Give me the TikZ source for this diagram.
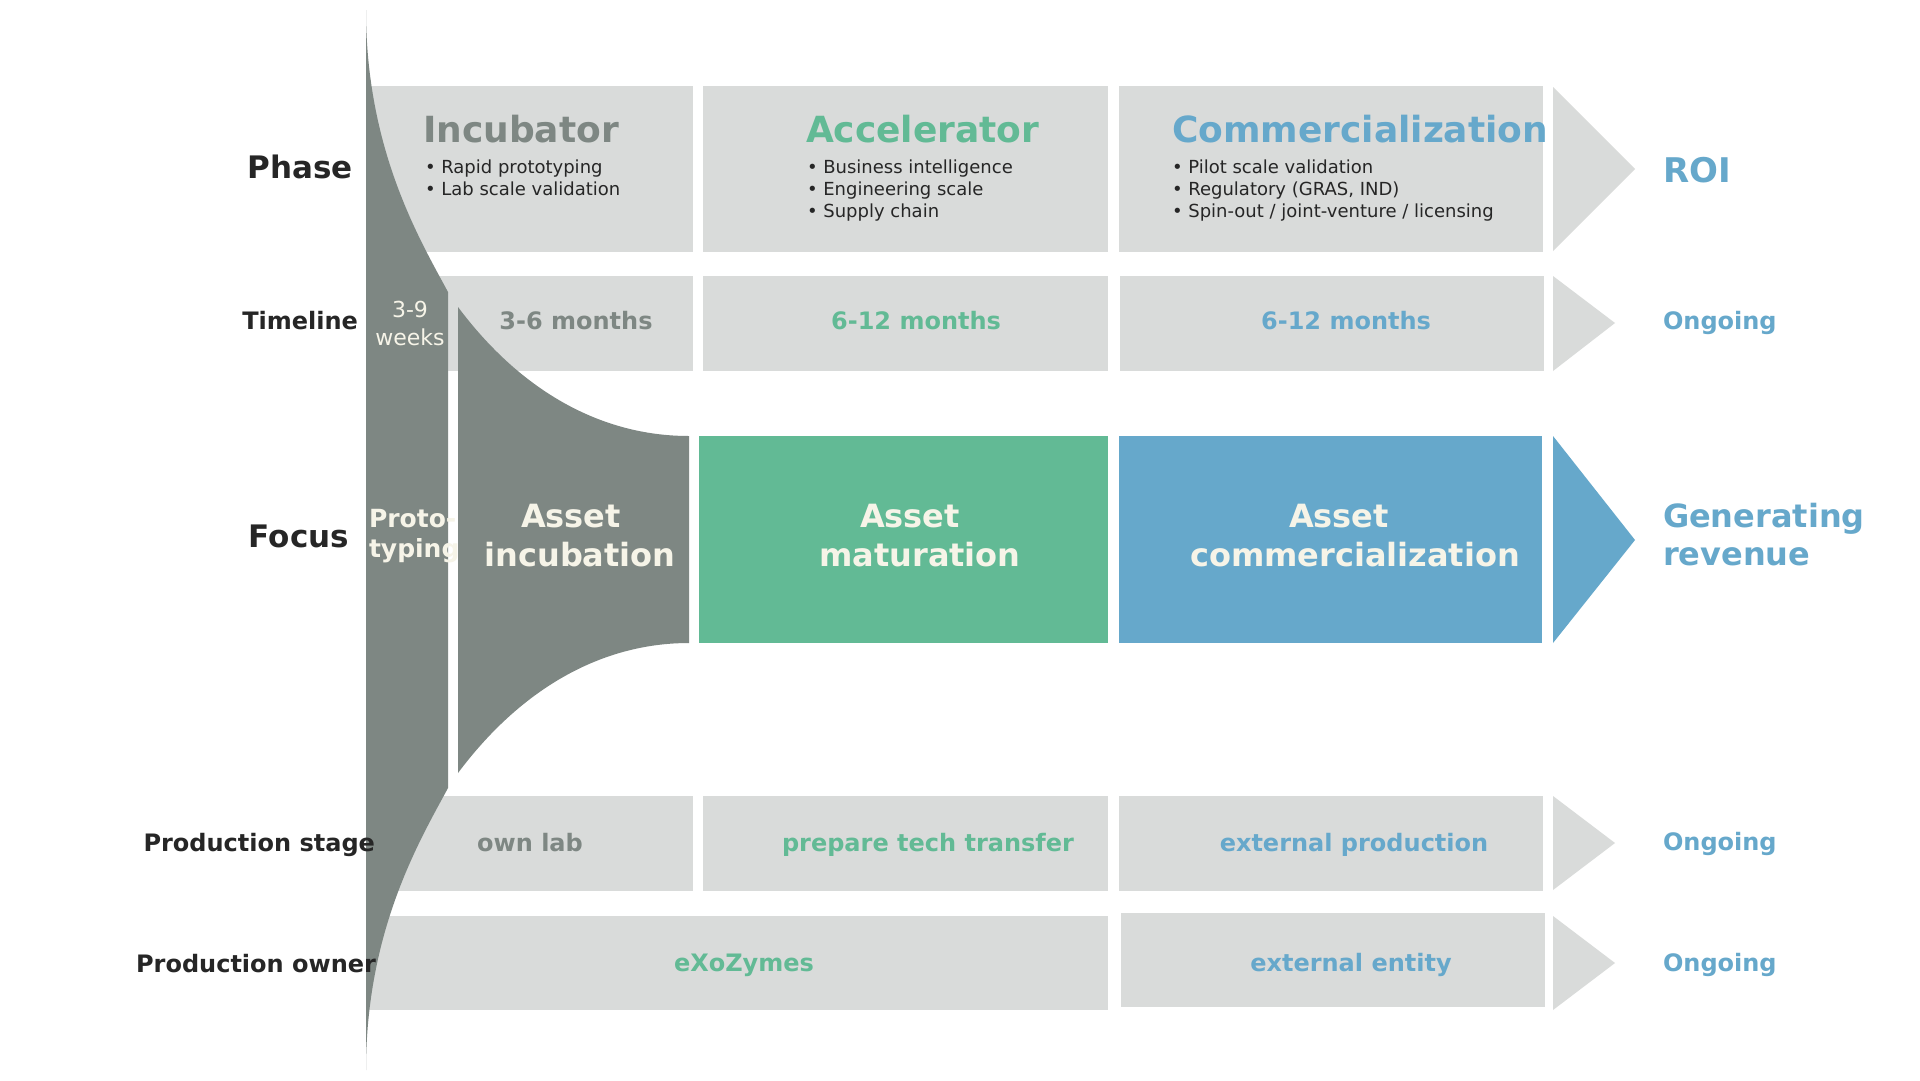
\documentclass[tikz,border=0pt]{standalone}
\usepackage{fontspec}
\setmainfont{DejaVu Sans}
\definecolor{boxgray}{HTML}{D9DBDA}
\definecolor{darkgray2}{HTML}{7E8783}
\definecolor{mygreen}{HTML}{62BA95}
\definecolor{myblue}{HTML}{66A8CB}
\definecolor{ink}{HTML}{262626}
\definecolor{cream}{HTML}{F6F4E8}
\newcommand{\fsz}[1]{\fontsize{#1pt}{#1pt}\selectfont}
\newcommand{\llines}[2]{\vtop{\baselineskip=#1pt\halign{##\hfil\cr#2\crcr}}}
\newcommand{\clines}[2]{\vtop{\baselineskip=#1pt\halign{\hfil##\hfil\cr#2\crcr}}}
\tikzset{
  every node/.style={inner sep=0pt, outer sep=0pt},
  rowlabel/.style={anchor=base east, text=ink, font=\bfseries\fsz{#1}},
  title/.style={anchor=base west, font=\bfseries\fsz{36}},
  bullets/.style={anchor=base west, text=ink, font=\fsz{18}},
  cell/.style={anchor=base, font=\bfseries\fsz{24}},
  focustext/.style={anchor=base, text=cream, font=\bfseries\fsz{32}},
  outtext/.style={anchor=base west, text=myblue, font=\bfseries\fsz{#1}},
}
\begin{document}
\begin{tikzpicture}[x=1pt,y=-1pt]
\useasboundingbox[fill=white] (0,0) rectangle (1920,1080);

% Phase row
\fill[boxgray] (366,86) rectangle (693,252);
\fill[boxgray] (703,86) rectangle (1108,252);
\fill[boxgray] (1119,86) rectangle (1543,252);
\fill[boxgray] (1553,87) -- (1635,169) -- (1553,251) -- cycle;
% Timeline row
\fill[boxgray] (366,276) rectangle (693,371);
\fill[boxgray] (703,276) rectangle (1108,371);
\fill[boxgray] (1120,276) rectangle (1544,371);
\fill[boxgray] (1553,276) -- (1615,323) -- (1553,371) -- cycle;
% Focus row
\fill[mygreen] (699,436) rectangle (1108,643);
\fill[myblue] (1119,436) rectangle (1542,643);
\fill[myblue] (1553,436) -- (1635,540) -- (1553,643) -- cycle;
% Production stage row
\fill[boxgray] (366,796) rectangle (693,891);
\fill[boxgray] (703,796) rectangle (1108,891);
\fill[boxgray] (1119,796) rectangle (1543,891);
\fill[boxgray] (1553,796) -- (1615,843) -- (1553,890) -- cycle;
% Production owner row
\fill[boxgray] (366,916) rectangle (1108,1010);
\fill[boxgray] (1121,913) rectangle (1545,1007);
\fill[boxgray] (1553,916) -- (1615,963) -- (1553,1010) -- cycle;

% Dark funnel shapes
\fill[darkgray2] (366,10) .. controls (366,150) and (420,240) .. (448,292)
  -- (448,788) .. controls (420,840) and (366,930) .. (366,1070) -- cycle;
\fill[darkgray2] (458,307) .. controls (520,390) and (600,436) .. (689,436)
  -- (689,643) .. controls (600,643) and (520,690) .. (458,773) -- cycle;

% Row labels
\node[rowlabel=31] (lphase) at (353,178) {Phase};
\node[rowlabel=24] (ltime) at (358,329) {Timeline};
\node[rowlabel=31] (lfocus) at (349,547) {Focus};
\node[rowlabel=24] (lstage) at (375,851) {Production stage};
\node[rowlabel=24] (lowner) at (376,972) {Production owner};

% Phase texts
\node[title, text=darkgray2] (tinc) at (423,142) {Incubator};
\node[bullets] (binc) at (425,173) {\llines{22}{• Rapid prototyping\cr • Lab scale validation}};
\node[title, text=mygreen] (tacc) at (806,142) {Accelerator};
\node[bullets] (bacc) at (807,173) {\llines{22}{• Business intelligence\cr • Engineering scale\cr • Supply chain}};
\node[title, text=myblue] (tcom) at (1172,142) {Commercialization};
\node[bullets] (bcom) at (1172,173) {\llines{22}{• Pilot scale validation\cr • Regulatory (GRAS, IND)\cr • Spin-out / joint-venture / licensing}};
\node[outtext=34] (roi) at (1663,182) {ROI};

% Timeline texts
\node[anchor=base, text=cream, font=\fsz{22}] (weeks) at (410,317) {\clines{28}{3-9\cr weeks}};
\node[cell, text=darkgray2] (m1) at (576,329) {3-6 months};
\node[cell, text=mygreen] (m2) at (916,329) {6-12 months};
\node[cell, text=myblue] (m3) at (1346,329) {6-12 months};
\node[outtext=24] (on1) at (1663,329) {Ongoing};

% Focus texts
\node[anchor=base west, text=cream, font=\bfseries\fsz{25}] (proto) at (369,527) {\llines{30}{Proto-\cr typing}};
\node[focustext] (finc) at (580,527) {\clines{39}{Asset\kern18pt\cr incubation}};
\node[focustext] (fmat) at (920,527) {\clines{39}{Asset\kern20pt\cr maturation}};
\node[focustext] (fcom) at (1355,527) {\clines{39}{Asset\kern32pt\cr commercialization}};
\node[outtext=32] (rev) at (1663,527) {\llines{38}{Generating\cr revenue}};

% Production stage texts
\node[cell, text=darkgray2] (s1) at (530,851) {own lab};
\node[cell, text=mygreen] (s2) at (928,851) {prepare tech transfer};
\node[cell, text=myblue] (s3) at (1354,851) {external production};
\node[outtext=24] (on2) at (1663,850) {Ongoing};

% Production owner texts
\node[cell, text=mygreen] (o1) at (744,971) {eXoZymes};
\node[cell, text=myblue] (o2) at (1351,971) {external entity};
\node[outtext=24] (on3) at (1663,971) {Ongoing};
\end{tikzpicture}
\end{document}
